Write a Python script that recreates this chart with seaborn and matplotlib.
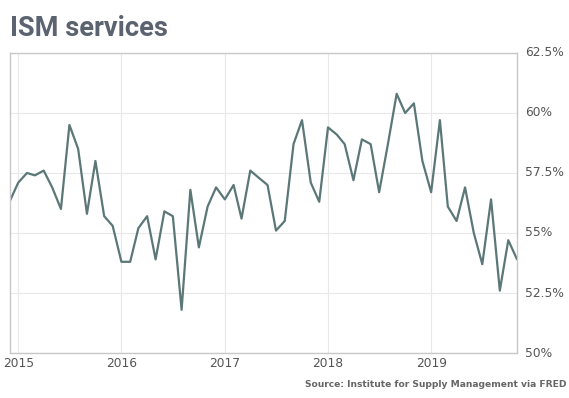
import pandas as pd
import matplotlib.pyplot as plt
import seaborn as sns

# monthly ISM services index, Dec 2014 - Nov 2019
start_month = "2014-12-01"
ism_values = [
    56.3,
    57.1, 57.5, 57.4, 57.6, 56.9, 56.0, 59.5, 58.5, 55.8, 58.0, 55.7, 55.3,
    53.8, 53.8, 55.2, 55.7, 53.9, 55.9, 55.7, 51.8, 56.8, 54.4, 56.1, 56.9,
    56.4, 57.0, 55.6, 57.6, 57.3, 57.0, 55.1, 55.5, 58.7, 59.7, 57.1, 56.3,
    59.4, 59.1, 58.7, 57.2, 58.9, 58.7, 56.7, 58.7, 60.8, 60.0, 60.4, 58.0,
    56.7, 59.7, 56.1, 55.5, 56.9, 55.0, 53.7, 56.4, 52.6, 54.7, 53.9,
]
y_ticks = [50, 52.5, 55, 57.5, 60, 62.5]
y_tick_labels = ["50%", "52.5%", "55%", "57.5%", "60%", "62.5%"]
year_ticks = ["2015", "2016", "2017", "2018", "2019"]

df = pd.DataFrame({
    "date": pd.date_range(start_month, periods=len(ism_values), freq="MS"),
    "value": ism_values,
})

sns.set_style("white")
plt.rcParams["font.family"] = ["DejaVu Sans"]

fig = plt.figure(figsize=(5.69, 3.98), dpi=100)
ax = fig.add_axes([0.0167, 0.113, 0.892, 0.754])

sns.lineplot(data=df, x="date", y="value", ax=ax, color="#5b7777", linewidth=1.6)

ax.set_xlim(df["date"].iloc[0], df["date"].iloc[-1])
ax.set_ylim(50, 62.5)
ax.set_xlabel("")
ax.set_ylabel("")

ax.set_xticks([pd.Timestamp(y + "-01-01") for y in year_ticks])
ax.set_xticklabels(year_ticks)
ax.set_yticks(y_ticks)
ax.set_yticklabels(y_tick_labels)
ax.yaxis.tick_right()

ax.tick_params(axis="both", length=0, labelsize=8.8, labelcolor="#555555")
ax.tick_params(axis="y", pad=6)
ax.tick_params(axis="x", pad=3)
for lbl in ax.get_yticklabels():
    lbl.set_verticalalignment("center")

ax.grid(True, color="#e8e8e8", linewidth=0.8)
for side in ax.spines.values():
    side.set_color("#c8c8c8")
    side.set_linewidth(1.0)

fig.text(0.0167, 0.909, "ISM services", fontsize=19.5, fontweight="bold",
         color="#5c6370", family="Roboto", ha="left", va="baseline")
fig.text(0.995, 0.028, "Source: Institute for Supply Management via FRED",
         fontsize=6.6, fontweight="bold", color="#666666", ha="right", va="baseline")

fig.savefig("out.png", dpi=100)
